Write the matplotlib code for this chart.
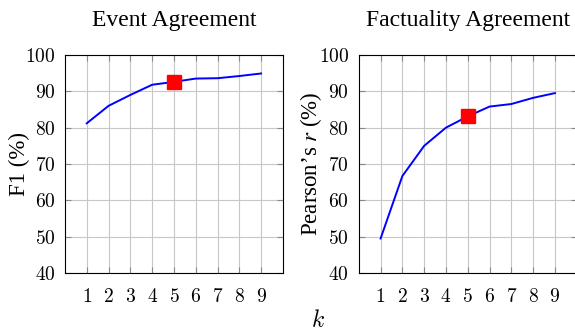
import matplotlib.pyplot as plt

plt.rcParams.update({
    "font.family": "serif",
    "font.serif": ["cmr10", "DejaVu Serif"],
    "mathtext.fontset": "cm",
    "axes.formatter.use_mathtext": True,
    "font.size": 14,
})

k = [1, 2, 3, 4, 5, 6, 7, 8, 9]
event_f1 = [81.2, 86.0, 89.0, 91.8, 92.6, 93.5, 93.6, 94.2, 94.9]
fact_r = [49.5, 66.7, 75.0, 80.0, 83.1, 85.8, 86.5, 88.2, 89.5]
best_k = 5

titles = ["Event Agreement", "Factuality Agreement"]
ylabels = ["F1 (%)", "Pearson\u2019s $r$ (%)"]
series = [event_f1, fact_r]

fig = plt.figure(figsize=(5.75, 3.33), dpi=100)
ax1 = fig.add_axes([0.113, 0.180, 0.379, 0.655])
ax2 = fig.add_axes([0.624, 0.180, 0.379, 0.655])

for ax, title, ylab, vals in zip([ax1, ax2], titles, ylabels, series):
    ax.plot(k, vals, color="blue", lw=1.4, zorder=3)
    ax.plot([best_k], [vals[k.index(best_k)]], "s", color="red",
            markersize=10, zorder=4)
    ax.set_xlim(0, 10)
    ax.set_ylim(40, 100)
    ax.set_xticks(k)
    ax.set_yticks(range(40, 101, 10))
    ax.grid(True, color="#c8c8c8", lw=0.8)
    ax.set_axisbelow(True)
    ax.tick_params(direction="in", top=True, right=True, length=4,
                   color="#888888", labelsize=14)
    ax.tick_params(axis="x", pad=11)
    ax.tick_params(axis="y", pad=7)
    for s in ax.spines.values():
        s.set_linewidth(0.8)
    ax.set_title(title, fontsize=17, pad=20.5, family="Liberation Serif")
    ax.set_ylabel(ylab, fontsize=16.5, labelpad=-4, family="Liberation Serif",
                  math_fontfamily="stix")

fig.text(0.553, 0.035, "$k$", fontsize=17, ha="center", va="center")

fig.savefig("out.png", dpi=100)
